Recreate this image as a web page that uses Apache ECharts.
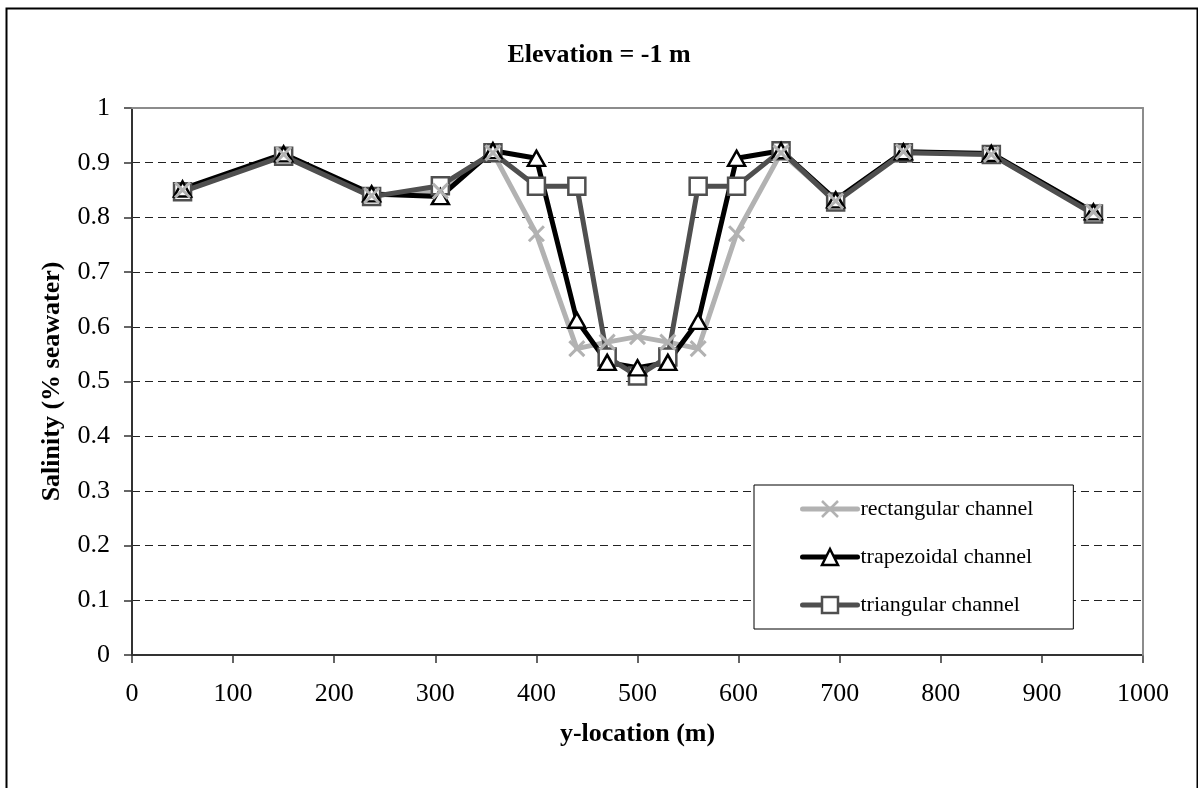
<!DOCTYPE html>
<html>
<head>
<meta charset="utf-8">
<script src="https://cdn.jsdelivr.net/npm/echarts@6/dist/echarts.min.js"></script>
<style>
  html, body { margin: 0; padding: 0; background: #fff; overflow: hidden; }
  #chart { width: 1198px; height: 788px; }
</style>
</head>
<body>
<div id="chart"></div>
<script>
// Cross-section positions (m) and salinity (fraction of seawater) at elevation -1 m
const yLocation = [50, 150, 237, 305, 357, 400, 440, 470, 500, 530, 560, 598, 642, 696, 763, 850, 951];
const rectangularChannel = [0.850, 0.915, 0.840, 0.848, 0.918, 0.770, 0.560, 0.572, 0.582, 0.572, 0.560, 0.770, 0.918, 0.830, 0.920, 0.915, 0.810];
const trapezoidalChannel = [0.852, 0.916, 0.843, 0.838, 0.922, 0.908, 0.612, 0.535, 0.525, 0.535, 0.610, 0.908, 0.922, 0.832, 0.920, 0.917, 0.810];
const triangularChannel  = [0.847, 0.912, 0.838, 0.858, 0.918, 0.857, 0.857, 0.545, 0.510, 0.545, 0.857, 0.857, 0.922, 0.828, 0.918, 0.915, 0.806];

const seriesNames = ['rectangular channel', 'trapezoidal channel', 'triangular channel'];
const xTicks = { min: 0, max: 1000, interval: 100 };
const yTicks = { min: 0, max: 1, interval: 0.1 };

const FONT = '"Liberation Serif", "Times New Roman", serif';
const LIGHT = '#b2b2b2', BLACK = '#000000', DARK = '#4f4f4f';
const CROSS = 'path://M0,0L10,10M10,0L0,10';

const pairs = vals => yLocation.map((x, i) => [x, vals[i]]);

const chart = echarts.init(document.getElementById('chart'), null, { renderer: 'canvas' });

function lineSeries(name, vals, color, symbol, fill) {
  return {
    name, type: 'line', data: pairs(vals),
    symbol, showSymbol: false, z: 2,
    lineStyle: { color, width: 5, cap: 'round', join: 'round' },
    itemStyle: { color: fill, borderColor: color, borderWidth: 2.5 },
    emphasis: { disabled: true }
  };
}
function markerSeries(name, vals, color, symbol, size, fill, z) {
  return {
    name, type: 'scatter', data: pairs(vals),
    symbol, symbolSize: size, z,
    itemStyle: { color: fill, borderColor: color, borderWidth: symbol === CROSS ? 3 : 2.5, opacity: 1 },
    emphasis: { disabled: true }
  };
}

chart.setOption({
  animation: false,
  title: {
    text: 'Elevation = -1 m',
    left: 'center', top: 42, padding: 0,
    textStyle: { fontFamily: FONT, fontWeight: 'bold', fontSize: 26, color: '#000' }
  },
  graphic: [{
    type: 'rect', left: 4, top: 6, z: 0, silent: true,
    shape: { width: 1191, height: 820 },
    style: { fill: 'none', stroke: '#000', lineWidth: 2 }
  }],
  grid: { left: 132, right: 55, top: 108, bottom: 133, containLabel: false },
  legend: {
    data: seriesNames,
    orient: 'vertical',
    left: 754, top: 485,
    padding: [13, 40, 13, 46],
    itemWidth: 55, itemHeight: 20, itemGap: 26,
    backgroundColor: '#fff', borderColor: '#000', borderWidth: 1,
    lineStyle: { width: 5 },
    itemStyle: { borderWidth: 2.5 },
    textStyle: { fontFamily: FONT, fontSize: 22, color: '#000', padding: [0, 0, 0, -2] },
    selectedMode: false
  },
  xAxis: [{
    type: 'value', min: xTicks.min, max: xTicks.max, interval: xTicks.interval,
    name: 'y-location (m)', nameLocation: 'middle', nameGap: 66,
    nameTextStyle: { fontFamily: FONT, fontWeight: 'bold', fontSize: 26, color: '#000' },
    axisLine: { show: true, onZero: false, lineStyle: { color: '#333', width: 2 } },
    axisTick: { show: true, inside: false, length: 8, lineStyle: { color: '#333', width: 1.5 } },
    axisLabel: { fontFamily: FONT, fontSize: 26, color: '#000', margin: 26, formatter: v => String(v) },
    splitLine: { show: false }
  }, {
    type: 'value', position: 'top', min: xTicks.min, max: xTicks.max, z: 3,
    axisLine: { show: true, onZero: false, lineStyle: { color: '#8c8c8c', width: 2 } },
    axisTick: { show: false }, axisLabel: { show: false }, splitLine: { show: false }
  }],
  yAxis: [{
    type: 'value', min: yTicks.min, max: yTicks.max, interval: yTicks.interval,
    name: 'Salinity (% seawater)', nameLocation: 'middle', nameGap: 67,
    nameTextStyle: { fontFamily: FONT, fontWeight: 'bold', fontSize: 26, color: '#000' },
    axisLine: { show: true, onZero: false, lineStyle: { color: '#333', width: 2 } },
    axisTick: { show: true, inside: false, length: 8, lineStyle: { color: '#333', width: 1.5 } },
    axisLabel: { fontFamily: FONT, fontSize: 26, color: '#000', margin: 22 },
    splitLine: { show: true, lineStyle: { color: '#222', width: 1, type: [8, 5] } }
  }, {
    type: 'value', position: 'right', min: yTicks.min, max: yTicks.max, z: 3,
    axisLine: { show: true, onZero: false, lineStyle: { color: '#8c8c8c', width: 2 } },
    axisTick: { show: false }, axisLabel: { show: false }, splitLine: { show: false }
  }],
  series: [
    lineSeries(seriesNames[0], rectangularChannel, LIGHT, CROSS, LIGHT),
    lineSeries(seriesNames[1], trapezoidalChannel, BLACK, 'triangle', '#fff'),
    lineSeries(seriesNames[2], triangularChannel, DARK, 'rect', '#fff'),
    markerSeries('triangular channel marks', triangularChannel, DARK, 'rect', 17, '#fff', 5),
    markerSeries('trapezoidal channel marks', trapezoidalChannel, BLACK, 'triangle', [17, 15], '#fff', 6),
    markerSeries('rectangular channel marks', rectangularChannel, LIGHT, CROSS, 15, LIGHT, 7)
  ]
});
</script>
</body>
</html>
